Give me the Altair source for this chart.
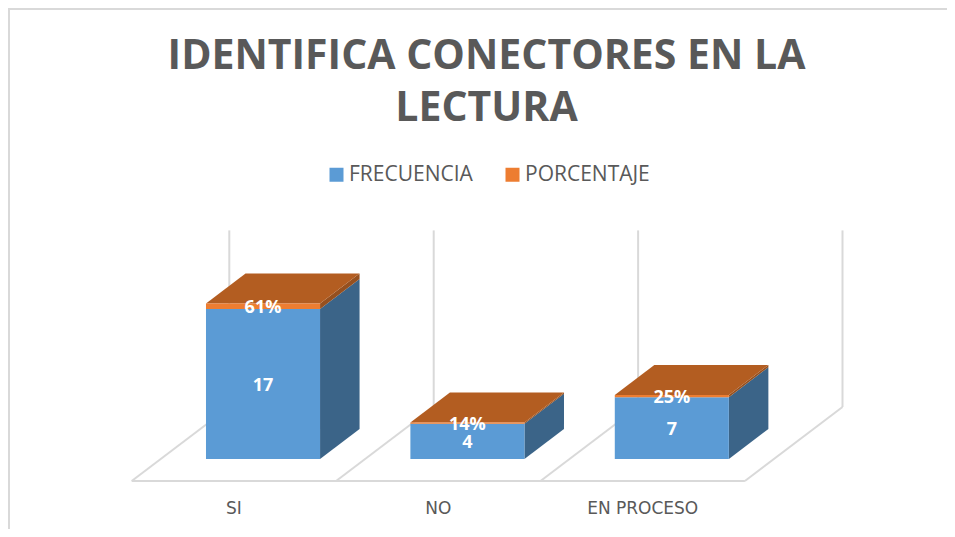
import altair as alt
import pandas as pd

categories = ["SI", "NO", "EN PROCESO"]
frecuencia = [17, 4, 7]
porcentaje = [0.61, 0.14, 0.25]
porcentaje_labels = ["61%", "14%", "25%"]
series = ["FRECUENCIA", "PORCENTAJE"]

# projection of the 3-D box, in slot units (x) and value units (y)
SLANT_X, FLOOR_Y = 0.4775, 8.38
GAP, DEPTH = 0.2216, 0.405
BAR_W = 0.558
AXIS_MAX = 20
FRONT = 0.297

x_scale = alt.Scale(domain=[-0.6052, 3.9887], nice=False, zero=False)
y_scale = alt.Scale(domain=[-13.82, 45.19], nice=False, zero=False)
X = lambda f: alt.X(f, type="quantitative", scale=x_scale, axis=None)
Y = lambda f: alt.Y(f, type="quantitative", scale=y_scale, axis=None)

front_rows, top_rows, side_rows, label_rows, cat_rows = [], [], [], [], []
for i, c in enumerate(categories):
    x0 = i + GAP + FRONT * SLANT_X
    x1 = x0 + BAR_W
    base = -FLOOR_Y * (1 - FRONT)
    dx, dy = DEPTH * SLANT_X, DEPTH * FLOOR_Y
    f, p = frecuencia[i], porcentaje[i]
    front_rows.append(dict(x=x0, x2=x1, y=base, y2=base + f, s=series[0]))
    front_rows.append(dict(x=x0, x2=x1, y=base + f, y2=base + f + p, s=series[1]))
    t = base + f + p
    top_rows += [dict(b=c, y=t, x=x0, x2=x1), dict(b=c, y=t + dy, x=x0 + dx, x2=x1 + dx)]
    side_rows += [
        dict(b=c, x=x1, y=base, y2=base + f, s="f"),
        dict(b=c, x=x1 + dx, y=base + dy, y2=base + f + dy, s="f"),
        dict(b=c, x=x1, y=base + f, y2=t, s="p"),
        dict(b=c, x=x1 + dx, y=base + f + dy, y2=t + dy, s="p"),
    ]
    xc = (x0 + x1) / 2
    label_rows.append(dict(x=xc, y=base + f / 2, t=str(f)))
    label_rows.append(dict(x=xc, y=base + f + p / 2, t=porcentaje_labels[i]))
    cat_rows.append(dict(x=i + 0.5, y=-11.5, t=c))

front = pd.DataFrame(front_rows)
top = pd.DataFrame(top_rows)
side = pd.DataFrame(side_rows)
labels = pd.DataFrame(label_rows)
cats = pd.DataFrame(cat_rows)

n = len(categories)
walls = pd.DataFrame([dict(x=i + SLANT_X, y=0, y2=AXIS_MAX) for i in range(n + 1)])
diag = pd.DataFrame([dict(x=i, x2=i + SLANT_X, y=-FLOOR_Y, y2=0) for i in range(n + 1)])
fl = pd.DataFrame([dict(x=0, x2=n, y=-FLOOR_Y, y2=-FLOOR_Y)])

GRID = "#d9d9d9"
wall_l = alt.Chart(walls).mark_rule(color=GRID, strokeWidth=2).encode(X("x"), Y("y"), y2="y2")
diag_l = alt.Chart(diag).mark_rule(color=GRID, strokeWidth=2).encode(X("x"), x2="x2", y=Y("y"), y2="y2")
floor_l = alt.Chart(fl).mark_rule(color=GRID, strokeWidth=2).encode(X("x"), x2="x2", y=Y("y"), y2="y2")

border_top = alt.Chart(fl).mark_rule(color=GRID, strokeWidth=2).encode(
    x=alt.value(0), x2=alt.value(939), y=alt.value(1))
border_left = alt.Chart(fl).mark_rule(color=GRID, strokeWidth=2).encode(
    x=alt.value(1), y=alt.value(0), y2=alt.value(521))

side_f = alt.Chart(side[side.s == "f"]).mark_area(color="#3b6488").encode(
    X("x"), Y("y"), y2="y2", detail="b:N")
side_p = alt.Chart(side[side.s == "p"]).mark_area(color="#96501f").encode(
    X("x"), Y("y"), y2="y2", detail="b:N")
top_m = alt.Chart(top).mark_area(orient="horizontal", color="#b35d21").encode(
    Y("y"), X("x"), x2="x2", detail="b:N")

front_m = alt.Chart(front).mark_rect().encode(
    X("x"), x2="x2", y=Y("y"), y2="y2",
    color=alt.Color("s:N", title=None,
        scale=alt.Scale(domain=series, range=["#5b9bd5", "#ed7d31"]),
        legend=alt.Legend(orient="none", legendX=318, legendY=156, direction="horizontal",
                          symbolType="square", symbolSize=196, symbolStrokeWidth=0,
                          labelFont="Open Sans", labelFontSize=21, labelColor="#595959",
                          labelLimit=200, columnPadding=29, labelOffset=2)),
)

lab = alt.Chart(labels).mark_text(color="white", font="Open Sans", fontWeight="bold", fontSize=18, dy=2).encode(
    X("x"), Y("y"), text="t:N")
cat = alt.Chart(cats).mark_text(color="#595959", font="DejaVu Sans", fontSize=17).encode(
    X("x"), Y("y"), text="t:N")

chart = alt.layer(border_top, border_left, wall_l, diag_l, floor_l,
                  side_f, side_p, top_m, front_m, lab, cat).properties(
    width=939, height=521, padding=0, autosize="none",
    title=alt.TitleParams(
        text=["IDENTIFICA CONECTORES EN LA", "LECTURA"],
        font="Open Sans", fontWeight="bold", fontSize=41, color="#595959",
        anchor="middle", lineHeight=52, dy=127, dx=9),
).configure_view(stroke=None)

chart.save("out.html", embed_options={"renderer": "svg", "actions": False})
